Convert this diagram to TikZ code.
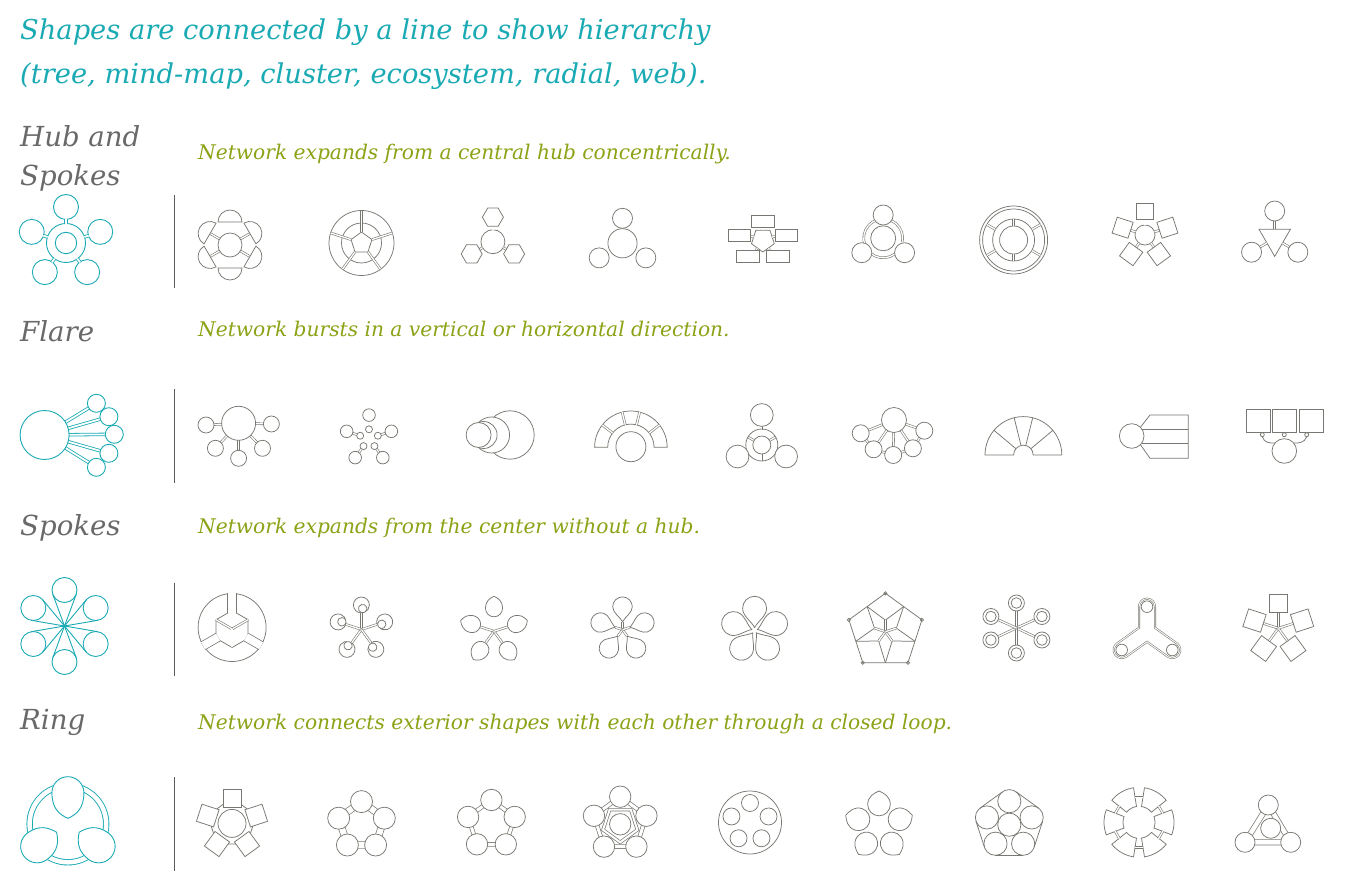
\documentclass[tikz,border=0pt]{standalone}
\usepackage{fontspec}
\setmainfont{DejaVu Serif}
\usetikzlibrary{calc}
\definecolor{hubteal}{RGB}{26,170,180}
\definecolor{leafgreen}{RGB}{139,163,22}
\definecolor{labelgrey}{RGB}{105,105,105}
\definecolor{icongrey}{RGB}{120,120,114}
\definecolor{rulegrey}{RGB}{90,90,90}
\tikzset{
  heading/.style={font=\fontsize{27.3}{30}\selectfont\itshape, text=hubteal, anchor=base west, inner sep=0pt},
  rowname/.style={font=\fontsize{27.6}{32}\selectfont\itshape, text=labelgrey, anchor=base west, inner sep=0pt},
  rowinfo/.style={font=\fontsize{20.2}{22}\selectfont\itshape, text=leafgreen, anchor=base west, inner sep=0pt},
  divider/.style={draw=rulegrey, line width=1pt},
  ic/.style={draw=icongrey, line width=0.75pt},
  icw/.style={ic, fill=white},
  neck/.style={draw=icongrey, line width=0.6pt, double=white, double distance=1.3pt},
  band/.style={draw=icongrey, line width=0.7pt, double=white, double distance=#1},
  tl/.style={draw=hubteal, line width=0.9pt},
  tlw/.style={tl, fill=white},
  tneck/.style={draw=hubteal, line width=0.8pt, double=white, double distance=1.8pt},
}
\newcommand{\hubdrop}[5]{%
  \draw[#1, rotate=#2] (#5,0)
    .. controls ({(#5)-0.35*((#5)-(#3))},{0.2*((#5)-(#3))}) and ({(#3)+0.4*((#5)-(#3))},#4) .. (#3,#4)
    arc[start angle=90, end angle=270, radius=#4]
    .. controls ({(#3)+0.4*((#5)-(#3))},-#4) and ({(#5)-0.35*((#5)-(#3))},{-0.2*((#5)-(#3))}) .. (#5,0) -- cycle;}
\newcommand{\hubleaf}[5]{%
  \draw[#1, rotate=#2] (#5,0)
    .. controls ({(#5)-0.15*((#5)-(#3))},{0.35*((#5)-(#3))}) and ({(#3)+0.6*((#5)-(#3))},#4) .. (#3,#4)
    arc[start angle=90, end angle=270, radius=#4]
    .. controls ({(#3)+0.6*((#5)-(#3))},-#4) and ({(#5)-0.15*((#5)-(#3))},{-0.35*((#5)-(#3))}) .. (#5,0) -- cycle;}

\begin{document}
\begin{tikzpicture}[x=1pt, y=1pt]
  \fill[white] (0,0) rectangle (1369,871);
  \useasboundingbox (0,0) rectangle (1369,871);

  \node[heading] (headA) at (20,831) {Shapes are connected by a line to show hierarchy};
  \node[heading] (headB) at (20,787) {(tree, mind-map, cluster, ecosystem, radial, web).};

  \node[rowname] (hubA) at (20,724) {Hub and};
  \node[rowname] (hubB) at (20,685) {Spokes};
  \node[rowinfo] (hubinfo) at (198,711) {Network expands from a central hub concentrically.};
  \node[rowname] (flare) at (20,529) {Flare};
  \node[rowinfo] (flareinfo) at (198,534) {Network bursts in a vertical or horizontal direction.};
  \node[rowname] (spokes) at (20,335) {Spokes};
  \node[rowinfo] (spokesinfo) at (198,337) {Network expands from the center without a hub.};
  \node[rowname] (ring) at (20,142) {Ring};
  \node[rowinfo] (ringinfo) at (198,142) {Network connects exterior shapes with each other through a closed loop.};

  \draw[divider] (174,676) -- (174,583);
  \draw[divider] (174,482) -- (174,388);
  \draw[divider] (174,288) -- (174,195);
  \draw[divider] (174,94) -- (174,0);

  % hub and spokes
  \begin{scope}[shift={(66,628)}]
    \draw[tl] (0,0) circle (19.5);
    \draw[tl] (0,0) circle (10.7);
    \foreach \a in {90,162,234,306,18} \draw[tlw] (\a:36) circle (12.5);
    \foreach \a in {90,162,234,306,18} \draw[tneck] (\a:19.3) -- (\a:23.8);
  \end{scope}
  \begin{scope}[shift={(230,626)}]
    \foreach \a in {90,30,-30,-90,-150,150} {
      \draw[neck] (\a:12) -- (\a:23);
      \draw[ic, rotate=\a] (23,-12) arc[start angle=-90, end angle=90, radius=12] -- cycle;
    }
    \draw[ic] (0,0) circle (12);
  \end{scope}
  \begin{scope}[shift={(361.5,628)}]
    \draw[ic] (0,0) circle (32.5);
    \draw[ic] (0,0) circle (20);
    \draw[ic] (90:11) -- (162:11) -- (234:11) -- (306:11) -- (18:11) -- cycle;
    \foreach \a in {90,162,234,306,18} \draw[neck] (\a:11) -- (\a:32.3);
  \end{scope}
  \begin{scope}[shift={(492.9,629.3)}]
    \draw[ic] (0,0) circle (12);
    \foreach \a in {90,210,330} {
      \draw[neck] (\a:12) -- (\a:15.4);
      \draw[ic, shift={(\a:24.5)}] (0:10.5) -- (60:10.5) -- (120:10.5) -- (180:10.5) -- (240:10.5) -- (300:10.5) -- cycle;
    }
  \end{scope}
  \begin{scope}[shift={(622.5,627.7)}]
    \draw[ic] (0,0) circle (14.6);
    \draw[ic] (90:25) circle (10);
    \draw[ic] (212:27.5) circle (10);
    \draw[ic] (328:27.5) circle (10);
  \end{scope}
  \begin{scope}[shift={(762.9,631)}]
    \draw[ic] (270:12) -- (342:12) -- (54:12) -- (126:12) -- (198:12) -- cycle;
    \draw[neck] (0,9.7) -- (0,12.3);
    \draw[neck] (-9.2,3) -- (-12.2,3.5);
    \draw[neck] (9.2,3) -- (12.2,3.5);
    \draw[neck] (-5.7,-7.9) -- (-6.5,-10);
    \draw[neck] (5.7,-7.9) -- (6.5,-10);
    \draw[ic] (-11.25,12.3) rectangle (11.25,24.3);
    \draw[ic] (-34.65,-1.8) rectangle (-12.15,10.2);
    \draw[ic] (12.15,-1.8) rectangle (34.65,10.2);
    \draw[ic] (-26.15,-22) rectangle (-3.65,-10);
    \draw[ic] (3.65,-22) rectangle (26.15,-10);
  \end{scope}
  \begin{scope}[shift={(883.2,632.7)}]
    \foreach \a in {90,210,330} \draw[neck] (\a+20:19.5) arc[start angle=\a+20, end angle=\a+112, radius=19.5];
    \draw[icw] (0,0) circle (12.5);
    \draw[icw] (0,23.3) circle (10);
    \draw[icw] (-21.4,-14.4) circle (10);
    \draw[icw] (21.4,-14.4) circle (10);
  \end{scope}
  \begin{scope}[shift={(1013.6,631)}]
    \foreach \r in {34,31,21,14} \draw[ic] (0,0) circle (\r);
    \foreach \a in {90,270} \draw[neck] (\a:14) -- (\a:21);
    \foreach \a in {30,150,210,330} \draw[neck] (\a:21) -- (\a:31);
  \end{scope}
  \begin{scope}[shift={(1145,636)}]
    \draw[ic] (0,0) circle (10);
    \foreach \a in {90,162,234,306,18} {
      \draw[neck] (\a:10) -- (\a:15.2);
      \draw[ic, rotate=\a] (15.2,-8.35) -- (31.9,-8.35) -- (31.9,8.35) -- (15.2,8.35) -- cycle;
    }
  \end{scope}
  \begin{scope}[shift={(1274.7,632.7)}]
    \draw[ic] (-15.7,9) -- (15.7,9) -- (0,-18.1) -- cycle;
    \draw[neck] (0,9) -- (0,17.3);
    \draw[ic] (0,27.3) circle (10);
    \foreach \a in {211,329} {
      \draw[neck] (\a:9) -- (\a:17);
      \draw[ic] (\a:27) circle (10);
    }
  \end{scope}

  % flare
  \begin{scope}[shift={(44.6,436)}]
    \foreach \x/\y in {51.8/31.7, 64.3/18.3, 69.7/0.7, 64.3/-18.3, 51.8/-32.3} {
      \draw[tneck] (0,0) -- (\x,\y);
      \draw[tlw] (\x,\y) circle (9);
    }
    \draw[tlw] (0,0) circle (24.5);
  \end{scope}
  \begin{scope}[shift={(238.6,447.7)}]
    \foreach \x/\y in {-32.6/-1.7, 32.8/-0.7, -23.2/-25, 0/-35, 23.9/-25} {
      \draw[neck] (0,0) -- (\x,\y);
      \draw[icw] (\x,\y) circle (8);
    }
    \draw[icw] (0,0) circle (17);
  \end{scope}
  \begin{scope}[shift={(369,432.4)}]
    \foreach \a in {90,162,234,306,18} {
      \draw[neck] (\a:12.8) -- (\a:17.2);
      \draw[ic] (\a:23.5) circle (6.3);
      \draw[ic] (\a:9.3) circle (3.5);
    }
  \end{scope}
  \begin{scope}[shift={(478.6,436)}]
    \draw[icw] (31.4,0) circle (24.2);
    \draw[icw] (13,0) circle (18);
    \draw[icw] (5,0) circle (13.5);
    \draw[icw] (0,0) circle (12.5);
  \end{scope}
  \begin{scope}[shift={(630.9,423.7)}]
    \draw[ic] (-36.3,0) arc[start angle=180, end angle=0, radius=36.3] -- (23.2,0) arc[start angle=0, end angle=180, radius=23.2] -- cycle;
    \foreach \a in {38,76,104,142} \draw[neck] (\a:23.2) -- (\a:36.3);
    \draw[ic] (0,0.6) circle (15);
  \end{scope}
  \begin{scope}[shift={(761.8,426)}]
    \foreach \a in {270,30,150} \draw[neck] (\a:9) -- (\a:16);
    \draw[neck] (0,15) -- (0,19);
    \draw[ic] (0,0) circle (9);
    \draw[ic] (0,0) circle (16);
    \draw[icw] (0,30) circle (11.4);
    \draw[icw] (-24.3,-11.5) circle (11.4);
    \draw[icw] (24.3,-11.5) circle (11.4);
  \end{scope}
  \begin{scope}[shift={(893,434)}]
    \coordinate (fbig) at (1,17);
    \coordinate (fl) at (-32.3,3.7);
    \coordinate (fr) at (31.3,6.3);
    \coordinate (fbl) at (-19.4,-12.3);
    \coordinate (fb) at (0.2,-18);
    \coordinate (fbr) at (19.9,-11.3);
    \foreach \u/\v in {fbig/fl, fbig/fr, fbig/fbl, fbig/fb, fbig/fbr, fl/fbl, fbl/fb, fb/fbr, fbr/fr}
      \draw[neck] (\u) -- (\v);
    \draw[icw] (fbig) circle (12.5);
    \foreach \c in {fl,fr,fbl,fb,fbr} \draw[icw] (\c) circle (8.5);
  \end{scope}
  \begin{scope}[shift={(1023.4,416)}]
    \draw[ic] (-38.4,0) arc[start angle=180, end angle=0, radius=38.4] -- (9.8,0) arc[start angle=0, end angle=180, radius=9.8] -- cycle;
    \foreach \a in {40,76,104,140} \draw[ic] (\a:9.8) -- (\a:38.4);
  \end{scope}
  \begin{scope}[shift={(1131.7,435)}]
    \draw[ic] (0,0) circle (12.3);
    \draw[ic] (45:12.3) -- (18.3,21) -- (56.6,21) -- (56.6,-22.3) -- (18.3,-22.3) -- (-45:12.3);
    \draw[ic] (10.3,6.7) -- (56.6,6.7);
    \draw[ic] (9.9,-7.3) -- (56.6,-7.3);
  \end{scope}
  \begin{scope}[shift={(1284.3,420)}]
    \draw[ic] (-37.6,18.7) rectangle (-14.3,42);
    \draw[ic] (-11.6,18.7) rectangle (12.4,42);
    \draw[ic] (15,18.7) rectangle (39,42);
    \foreach \x in {-22,0,22.4} \draw[ic] (\x,16.3) circle (2);
    \draw[ic] (-22,14.3) .. controls (-20,8) and (-15,8) .. (140:12.3);
    \draw[ic] (22.4,14.3) .. controls (20,8) and (15,8) .. (40:12.3);
    \draw[ic] (0,0) circle (12.3);
  \end{scope}

  % spokes
  \begin{scope}[shift={(64.5,245)}]
    \foreach \a in {90,150,210,270,330,30} {
      \draw[tl] (0,0) -- (\a+20.3:33.8);
      \draw[tl] (0,0) -- (\a-20.3:33.8);
      \draw[tl] (\a:36) circle (12.5);
    }
  \end{scope}
  \begin{scope}[shift={(232.1,243.5)}]
    \draw[ic] (0,0) circle (34);
    \begin{scope}[shift={(0,-1.5)}]
      \draw[ic] (30:18.5) -- (90:18.5) -- (150:18.5) -- (210:18.5) -- (270:18.5) -- (330:18.5) -- cycle;
      \foreach \a in {30,150,270} \draw[neck] (0,0) -- (\a:18.5);
      \draw[ic, double=white, double distance=8pt] (90:16.2) -- (90:35.9);
      \draw[ic, double=white, double distance=8pt] (210:16.2) -- (210:33.6);
      \draw[ic, double=white, double distance=8pt] (330:16.2) -- (330:33.6);
    \end{scope}
  \end{scope}
  \begin{scope}[shift={(361.4,241.5)}]
    \foreach \a in {90,18,162,234,306} {
      \draw[neck] (0,0) -- (\a:16.5);
      \draw[ic, shift={(\a:24.5)}, rotate=\a] (-8,0) arc[start angle=180, end angle=-160, radius=8];
      \draw[ic, shift={(\a:24.5)}, rotate=\a] (-7.5,-2.7) arc[start angle=200, end angle=-130, radius=4.2];
    }
  \end{scope}
  \begin{scope}[shift={(494,239.7)}]
    \foreach \a in {90,162,234,306,18} {
      \draw[neck] (0,0) -- (\a:14.5);
      \hubleaf{ic}{\a}{23}{8.5}{35}
    }
  \end{scope}
  \begin{scope}[shift={(622.5,241.3)}]
    \foreach \a in {90,162,234,306,18} {
      \draw[neck] (0,0) -- (\a:8);
      \hubdrop{ic}{\a+180}{-23}{9.8}{-8}
    }
  \end{scope}
  \begin{scope}[shift={(754.6,240.6)}]
    \foreach \a in {90,162,234,306,18} {
      \hubdrop{ic}{\a+180}{-22.1}{12}{-3}
    }
  \end{scope}
  \begin{scope}[shift={(885.4,239.3)}]
    \draw[ic] (90:38.4) -- (162:38.4) -- (234:38.4) -- (306:38.4) -- (18:38.4) -- cycle;
    \foreach \a in {90,162,234,306,18} {
      \draw[ic] (\a:38.4) circle (1.6);
      \draw[ic] (\a+36:31.07) -- (\a:11.5) -- (\a-36:31.07);
      \draw[neck] (0,0) -- (\a:11.5);
    }
  \end{scope}
  \begin{scope}[shift={(1016.4,243)}]
    \foreach \x/\y in {0/25, 25.5/11.5, 25.5/-12, 0/-25, -25.5/-12, -25.5/11.5} {
      \draw[neck] (0,0) -- (\x,\y);
      \draw[icw] (\x,\y) circle (8);
      \draw[ic] (\x,\y) circle (5.3);
    }
  \end{scope}
  \begin{scope}[shift={(1147,239)}]
    \draw[ic, double=white, double distance=0.9pt, line width=0.55pt] (-8,25.3) -- (-8,4.2) -- (-29.95,-11.47) arc[start angle=125.4, end angle=305.4, radius=8] -- (0,-9.83) -- (20.65,-24.53) arc[start angle=234.6, end angle=414.6, radius=8] -- (8,4.2) -- (8,25.3) arc[start angle=0, end angle=180, radius=8] -- cycle;
    \foreach \x/\y in {0/25.3, -25.3/-18, 25.3/-18} \draw[ic] (\x,\y) circle (5.8);
  \end{scope}
  \begin{scope}[shift={(1278.3,242.7)}]
    \foreach \a in {90,162,234,306,18} {
      \draw[neck] (0,0) -- (\a:16);
      \draw[ic, rotate=\a] (15.75,-9.25) -- (34.25,-9.25) -- (34.25,9.25) -- (15.75,9.25) -- cycle;
    }
  \end{scope}

  % ring
  \begin{scope}[shift={(67.9,47)}]
    \draw[draw=hubteal, line width=0.9pt, double=white, double distance=4.5pt] (0,0) circle (38.3);
    \hubleaf{tlw}{270}{-31.3}{16}{-5.7}
    \hubleaf{tlw}{36}{-38}{16.5}{-14}
    \hubleaf{tlw}{144}{-38}{16.5}{-14}
  \end{scope}
  \begin{scope}[shift={(232,47.6)}]
    \draw[ic] (90:25.5) -- (162:25.5) -- (234:25.5) -- (306:25.5) -- (18:25.5) -- cycle;
    \foreach \a in {90,162,234,306,18}
      \draw[icw, rotate=\a] (16.5,-9) -- (34.5,-9) -- (34.5,9) -- (16.5,9) -- cycle;
    \draw[icw] (0,0) circle (14);
  \end{scope}
  \begin{scope}[shift={(361.5,45.4)}]
    \draw[band=6pt] (90:24) -- (162:24) -- (234:24) -- (306:24) -- (18:24) -- cycle;
    \foreach \a in {90,162,234,306,18} \draw[icw] (\a:24) circle (11);
  \end{scope}
  \begin{scope}[shift={(491.4,46.5)}]
    \draw[band=3pt] (90:24.5) -- (162:24.5) -- (234:24.5) -- (306:24.5) -- (18:24.5) -- cycle;
    \foreach \a in {90,162,234,306,18} \draw[icw] (\a:24.5) circle (10.7);
  \end{scope}
  \begin{scope}[shift={(620.2,46.7)}]
    \draw[band=3pt] (90:27.6) -- (162:27.6) -- (234:27.6) -- (306:27.6) -- (18:27.6) -- cycle;
    \foreach \a in {90,162,234,306,18} \draw[icw] (\a:27.6) circle (10.7);
    \draw[band=2pt] (270:18) -- (342:18) -- (54:18) -- (126:18) -- (198:18) -- cycle;
    \draw[ic] (0,0) circle (10.7);
  \end{scope}
  \begin{scope}[shift={(750,48.5)}]
    \draw[ic] (0,0) circle (31.5);
    \foreach \a in {90,162,234,306,18} \draw[ic] (\a:19.5) circle (8.5);
  \end{scope}
  \begin{scope}[shift={(879,45)}]
    \draw[neck] (-6,-19) -- (6,-19);
    \foreach \a in {90,162,234,306,18} {
      \hubleaf{icw}{\a}{21.5}{11.3}{35}
    }
  \end{scope}
  \begin{scope}[shift={(1009.3,46.3)}]
    \foreach \a in {90,162,234,306,18} {
      \draw[ic] (\a:23.5) circle (11.6);
      \draw[ic] ($(\a:23.5)+(\a+36:11.6)$) -- ($(\a+72:23.5)+(\a+36:11.6)$);
    }
    \draw[ic] (0,0) circle (11.6);
  \end{scope}
  \begin{scope}[shift={(1139,48.7)}]
    \foreach \a in {0,60,120,180,240,300}
      \draw[ic] ({\a-21}:16) -- ({\a-21}:35) arc[start angle=\a-21, end angle=\a+21, radius=35] -- ({\a+21}:16) arc[start angle=\a+21, end angle=\a-21, radius=16] -- cycle;
    \foreach \a in {30,90,150,210,270,330} \draw[neck] ({\a-10}:25.5) -- ({\a+10}:25.5);
  \end{scope}
  \begin{scope}[shift={(1268,41.1)}]
    \draw[band=4.5pt] (0.3,24.9) -- (-23,-12.4) -- (22.7,-12.4) -- cycle;
    \foreach \x/\y in {0.3/24.9, -23/-12.4, 22.7/-12.4} \draw[icw] (\x,\y) circle (10);
    \draw[icw] (2.7,1.6) circle (10);
  \end{scope}
\end{tikzpicture}
\end{document}
